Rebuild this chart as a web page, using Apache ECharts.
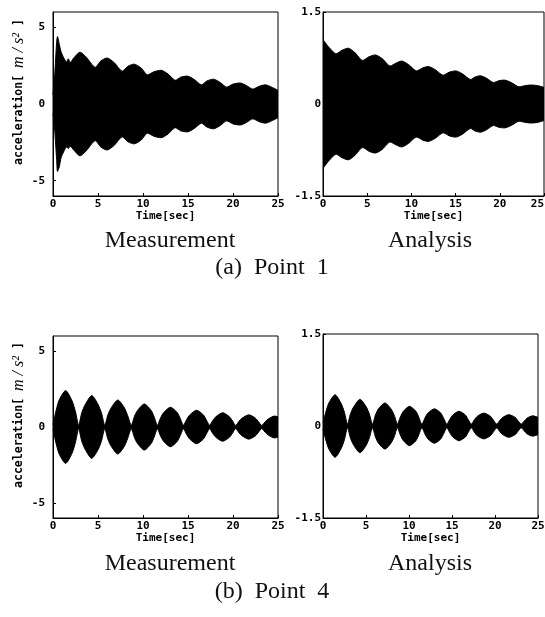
<!DOCTYPE html>
<html>
<head>
<meta charset="utf-8">
<script src="https://cdn.jsdelivr.net/npm/echarts@6/dist/echarts.min.js"></script>
<style>
html,body{margin:0;padding:0;background:#fff;}
#chart{width:545px;height:617px;}
</style>
</head>
<body>
<div id="chart"></div>
<script>
// ---- Data (envelopes of the acceleration records) ----
const xTicks = [0, 5, 10, 15, 20, 25];
const yTicksMeas = [-5, 0, 5];
const yTicksAna = [-1.5, 0, 1.5];

// (a) Point 1 - Measurement
const tMeas1 = [0, 0.2, 0.4, 0.5, 0.7, 0.9, 1.2, 1.5, 1.7, 1.9, 2.3, 3.0, 3.7, 4.7, 5.3, 6.0, 6.8, 7.7, 8.3, 9.0, 9.8, 10.5, 11.2, 12.0, 12.8, 13.6, 14.2, 14.9, 15.7, 16.5, 17.1, 17.8, 18.6, 19.3, 20.0, 20.8, 21.5, 22.2, 22.9, 23.6, 24.3, 25.0];
const upMeas1 = [0.6, 2.0, 4.0, 4.4, 3.9, 3.4, 3.0, 2.75, 2.95, 2.7, 3.0, 3.38, 3.05, 2.4, 2.8, 3.0, 2.7, 2.15, 2.45, 2.6, 2.35, 1.9, 2.1, 2.2, 1.95, 1.55, 1.75, 1.82, 1.6, 1.25, 1.5, 1.62, 1.4, 1.1, 1.3, 1.37, 1.2, 0.97, 1.15, 1.25, 1.1, 0.9];
const loMeas1 = [-0.6, -1.8, -3.6, -4.4, -4.1, -3.5, -3.1, -2.8, -2.9, -2.75, -3.0, -3.38, -3.05, -2.4, -2.8, -3.0, -2.7, -2.15, -2.45, -2.6, -2.35, -1.9, -2.1, -2.2, -1.95, -1.55, -1.75, -1.82, -1.6, -1.25, -1.5, -1.62, -1.4, -1.1, -1.3, -1.37, -1.2, -0.97, -1.15, -1.25, -1.1, -0.9];

// (a) Point 1 - Analysis
const tAna1 = [0, 0.7, 1.5, 2.2, 2.85, 3.6, 4.5, 5.2, 5.9, 6.7, 7.6, 8.3, 8.9, 9.7, 10.6, 11.3, 11.9, 12.7, 13.6, 14.3, 15.0, 15.8, 16.7, 17.2, 17.8, 18.5, 19.3, 19.9, 20.5, 21.3, 22.2, 22.9, 23.5, 24.3, 25.0];
const upAna1 = [1.05, 0.92, 0.82, 0.88, 0.91, 0.84, 0.71, 0.77, 0.8, 0.74, 0.62, 0.67, 0.7, 0.64, 0.54, 0.59, 0.61, 0.56, 0.47, 0.52, 0.54, 0.49, 0.4, 0.44, 0.46, 0.42, 0.35, 0.38, 0.39, 0.35, 0.28, 0.3, 0.31, 0.3, 0.27];
const loAna1 = [-1.05, -0.92, -0.82, -0.88, -0.91, -0.84, -0.71, -0.77, -0.8, -0.74, -0.62, -0.67, -0.7, -0.64, -0.54, -0.59, -0.61, -0.56, -0.47, -0.52, -0.54, -0.49, -0.4, -0.44, -0.46, -0.42, -0.35, -0.38, -0.39, -0.35, -0.28, -0.3, -0.31, -0.3, -0.27];

// (b) Point 4 - Measurement
const tMeas4 = [0, 0.35, 0.7, 1.4, 2.1, 2.5, 2.85, 3.2, 3.6, 4.3, 5.0, 5.4, 5.75, 6.1, 6.5, 7.2, 7.9, 8.3, 8.7, 9.05, 9.4, 10.15, 10.9, 11.25, 11.6, 11.95, 12.3, 13.05, 13.8, 14.15, 14.5, 14.85, 15.2, 15.95, 16.7, 17.05, 17.4, 17.75, 18.1, 18.85, 19.6, 19.95, 20.3, 20.65, 21.0, 21.75, 22.5, 22.85, 23.2, 23.55, 23.9, 24.6, 25.0];
const upMeas4 = [0.15, 1.1, 1.8, 2.4, 1.75, 1.0, 0.12, 0.95, 1.5, 2.07, 1.5, 0.9, 0.12, 0.8, 1.3, 1.78, 1.3, 0.75, 0.12, 0.7, 1.1, 1.52, 1.1, 0.65, 0.12, 0.6, 0.95, 1.3, 0.95, 0.55, 0.12, 0.5, 0.8, 1.1, 0.8, 0.45, 0.12, 0.43, 0.68, 0.94, 0.68, 0.4, 0.1, 0.37, 0.58, 0.8, 0.58, 0.33, 0.1, 0.33, 0.52, 0.72, 0.68];
const loMeas4 = [-0.15, -1.1, -1.8, -2.4, -1.75, -1.0, -0.12, -0.95, -1.5, -2.07, -1.5, -0.9, -0.12, -0.8, -1.3, -1.78, -1.3, -0.75, -0.12, -0.7, -1.1, -1.52, -1.1, -0.65, -0.12, -0.6, -0.95, -1.3, -0.95, -0.55, -0.12, -0.5, -0.8, -1.1, -0.8, -0.45, -0.12, -0.43, -0.68, -0.94, -0.68, -0.4, -0.1, -0.37, -0.58, -0.8, -0.58, -0.33, -0.1, -0.33, -0.52, -0.72, -0.68];

// (b) Point 4 - Analysis
const tAna4 = [0, 0.35, 0.7, 1.4, 2.1, 2.5, 2.85, 3.2, 3.6, 4.3, 5.0, 5.4, 5.75, 6.1, 6.45, 7.2, 7.9, 8.3, 8.65, 9.0, 9.35, 10.05, 10.8, 11.15, 11.5, 11.85, 12.2, 12.95, 13.7, 14.05, 14.4, 14.75, 15.1, 15.8, 16.55, 16.9, 17.25, 17.6, 17.95, 18.7, 19.45, 19.85, 20.2, 20.55, 20.9, 21.6, 22.35, 22.7, 23.05, 23.4, 23.75, 24.4, 25.0];
const upAna4 = [0.05, 0.24, 0.38, 0.51, 0.37, 0.22, 0.03, 0.2, 0.32, 0.435, 0.32, 0.19, 0.03, 0.18, 0.28, 0.377, 0.28, 0.17, 0.03, 0.15, 0.24, 0.32, 0.24, 0.14, 0.03, 0.13, 0.21, 0.28, 0.21, 0.12, 0.03, 0.11, 0.18, 0.24, 0.18, 0.1, 0.03, 0.1, 0.16, 0.21, 0.16, 0.09, 0.03, 0.09, 0.14, 0.185, 0.14, 0.08, 0.03, 0.08, 0.13, 0.166, 0.14];
const loAna4 = [-0.05, -0.24, -0.38, -0.51, -0.37, -0.22, -0.03, -0.2, -0.32, -0.435, -0.32, -0.19, -0.03, -0.18, -0.28, -0.377, -0.28, -0.17, -0.03, -0.15, -0.24, -0.32, -0.24, -0.14, -0.03, -0.13, -0.21, -0.28, -0.21, -0.12, -0.03, -0.11, -0.18, -0.24, -0.18, -0.1, -0.03, -0.1, -0.16, -0.21, -0.16, -0.09, -0.03, -0.09, -0.14, -0.185, -0.14, -0.08, -0.03, -0.08, -0.13, -0.166, -0.14];

// ---- Chart ----
const monoFont = '"DejaVu Sans Mono", "Liberation Mono", monospace';
const serifFont = '"Liberation Serif", "DejaVu Serif", serif';

const grids = [
  {left: 53, top: 12, width: 225, height: 184},
  {left: 323, top: 12, width: 221, height: 184},
  {left: 53, top: 336, width: 225, height: 182},
  {left: 323, top: 334, width: 215, height: 184}
].map(g => Object.assign({show: true, borderColor: '#000', borderWidth: 1, backgroundColor: 'transparent', outerBoundsMode: 'none', containLabel: false}, g));

function xAxisFor(i) {
  return {
    type: 'value', gridIndex: i, min: 0, max: 25, interval: 5,
    name: 'Time[sec]', nameLocation: 'middle', nameGap: 15,
    nameTextStyle: {fontFamily: monoFont, fontWeight: 'bold', fontSize: 11, color: '#000'},
    axisLine: {show: true, onZero: false, lineStyle: {color: '#000', width: 1}},
    axisTick: {show: true, inside: true, length: 3, lineStyle: {color: '#000'}, customValues: xTicks},
    axisLabel: {show: true, margin: 3, fontFamily: monoFont, fontWeight: 'bold', fontSize: 11, color: '#000',
      customValues: xTicks, hideOverlap: false, alignMaxLabel: i === 1 ? 'right' : 'center'},
    splitLine: {show: false}
  };
}
function yAxisFor(i, meas) {
  const ticks = meas ? yTicksMeas : yTicksAna;
  return {
    type: 'value', gridIndex: i, min: meas ? -6 : -1.5, max: meas ? 6 : 1.5,
    axisLine: {show: true, onZero: false, lineStyle: {color: '#000', width: 1}},
    axisTick: {show: true, inside: true, length: 3, lineStyle: {color: '#000'}, customValues: ticks},
    axisLabel: {show: true, margin: meas ? 8 : 2, fontFamily: monoFont, fontWeight: 'bold', fontSize: 11, color: '#000', customValues: ticks},
    splitLine: {show: false}
  };
}

// Each envelope is filled to the zero line; upper + lower together form the black band.
function band(i, t, vals) {
  return {
    type: 'line', xAxisIndex: i, yAxisIndex: i,
    data: t.map((x, k) => [x, vals[k]]),
    showSymbol: false, smooth: 0.25,
    lineStyle: {color: '#000', width: 1},
    areaStyle: {color: '#000', opacity: 1},
    silent: true, animation: false
  };
}

function yName(x, y) {
  return {
    type: 'text', x: x, y: y, rotation: Math.PI / 2,
    style: {
      text: '{a|acceleration[ }{b|m / s²}{a| ]}',
      align: 'center', verticalAlign: 'middle',
      rich: {
        a: {fontFamily: monoFont, fontWeight: 'bold', fontSize: 11.5, fill: '#000'},
        b: {fontFamily: serifFont, fontStyle: 'italic', fontSize: 16, fill: '#000'}
      }
    }
  };
}
function caption(x, y, txt) {
  return {
    type: 'text', x: x, y: y,
    style: {text: txt, align: 'center', verticalAlign: 'middle', fontFamily: serifFont, fontSize: 24, fill: '#111'}
  };
}

const chart = echarts.init(document.getElementById('chart'), null, {renderer: 'canvas'});
chart.setOption({
  animation: false,
  backgroundColor: '#fff',
  grid: grids,
  xAxis: [0, 1, 2, 3].map(xAxisFor),
  yAxis: [yAxisFor(0, true), yAxisFor(1, false), yAxisFor(2, true), yAxisFor(3, false)],
  series: [
    band(0, tMeas1, upMeas1), band(0, tMeas1, loMeas1),
    band(1, tAna1, upAna1), band(1, tAna1, loAna1),
    band(2, tMeas4, upMeas4), band(2, tMeas4, loMeas4),
    band(3, tAna4, upAna4), band(3, tAna4, loAna4)
  ],
  graphic: [
    yName(19, 92), yName(19, 415),
    caption(170, 241, 'Measurement'), caption(430, 241, 'Analysis'),
    caption(272, 268, '(a)  Point  1'),
    caption(170, 564, 'Measurement'), caption(430, 564, 'Analysis'),
    caption(272, 592, '(b)  Point  4')
  ]
});
</script>
</body>
</html>
